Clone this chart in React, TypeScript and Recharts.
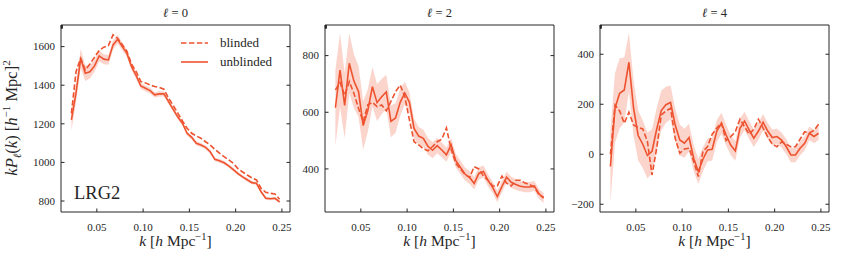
import React from 'react';
import { ComposedChart, Line, Area, XAxis, YAxis, Legend } from 'recharts';

// k bin centres [h/Mpc]
const kBins = [
  0.0225, 0.0275, 0.0325, 0.0375, 0.0425, 0.0475, 0.0525, 0.0575, 0.0625, 0.0675,
  0.0725, 0.0775, 0.0825, 0.0875, 0.0925, 0.0975, 0.1025, 0.1075, 0.1125, 0.1175,
  0.1225, 0.1275, 0.1325, 0.1375, 0.1425, 0.1475, 0.1525, 0.1575, 0.1625, 0.1675,
  0.1725, 0.1775, 0.1825, 0.1875, 0.1925, 0.1975, 0.2025, 0.2075, 0.2125, 0.2175,
  0.2225, 0.2275, 0.2325, 0.2375, 0.2425, 0.2475,
];

// l = 0
const monoBlinded = [
  1254, 1470, 1540, 1480, 1510, 1545, 1580, 1597, 1605, 1661,
  1643, 1610, 1575, 1510, 1470, 1419, 1412, 1401, 1393, 1388,
  1379, 1333, 1295, 1255, 1215, 1177, 1151, 1137, 1125, 1107,
  1090, 1068, 1048, 1030, 1013, 995, 968, 950, 935, 920,
  909, 866, 845, 840, 836, 809,
];
const monoUnblinded = [
  1220, 1360, 1538, 1462, 1470, 1500, 1552, 1535, 1531, 1609,
  1638, 1600, 1565, 1496, 1450, 1396, 1384, 1372, 1350, 1355,
  1355, 1315, 1275, 1235, 1203, 1151, 1130, 1099, 1090, 1078,
  1055, 1016, 1008, 998, 982, 962, 942, 925, 910, 895,
  892, 848, 814, 812, 814, 795,
];
const monoSigma = [
  55, 50, 50, 40, 35, 30, 28, 26, 25, 24,
  22, 20, 19, 18, 17, 16, 15, 15, 14, 14,
  13, 13, 12, 12, 12, 11, 11, 11, 10, 10,
  10, 10, 10, 9, 9, 9, 9, 9, 9, 8,
  8, 8, 8, 8, 8, 8,
];

// l = 2
const quadBlinded = [
  679, 705, 660, 708, 667, 614, 567, 626, 635, 620,
  626, 605, 638, 673, 696, 655, 573, 496, 485, 471,
  464, 479, 496, 505, 545, 470, 420, 400, 380, 370,
  408, 400, 375, 360, 340, 340, 375, 350, 340, 360,
  360, 350, 345, 335, 310, 300,
];
const quadUnblinded = [
  616, 749, 624, 773, 710, 673, 553, 606, 690, 634,
  655, 672, 568, 580, 635, 668, 635, 543, 516, 508,
  480, 466, 482, 467, 450, 485, 430, 406, 382, 370,
  349, 384, 391, 359, 335, 302, 338, 371, 353, 345,
  339, 336, 336, 340, 312, 297,
];
const quadSigma = [
  135, 130, 115, 105, 95, 90, 85, 75, 70, 65,
  62, 60, 56, 52, 48, 40, 36, 34, 32, 30,
  29, 28, 27, 26, 25, 25, 24, 24, 23, 23,
  22, 22, 21, 21, 20, 20, 20, 19, 19, 19,
  18, 18, 18, 17, 17, 17,
];

// l = 4
const hexaBlinded = [
  0, 197, 173, 124, 168, 117, 107, 101, 51, -83,
  24, 157, 173, 184, 64, 4, 21, 24, -29, -89,
  11, 31, 80, 105, 125, 55, 70, 90, 140, 110,
  80, 100, 140, 105, 70, 40, 30, 50, 40, 30,
  30, 60, 90, 85, 95, 120,
];
const hexaUnblinded = [
  -49, 185, 244, 257, 368, 185, 75, 40, -5, 12,
  100, 175, 198, 207, 117, 57, 44, 67, -16, -69,
  -20, 17, 20, 93, 124, 77, 37, 13, 104, 133,
  97, 64, 93, 128, 93, 67, 71, 57, 31, -3,
  -3, 24, 44, 84, 71, 84,
];
const hexaSigma = [
  145, 140, 140, 130, 118, 110, 100, 95, 92, 88,
  85, 80, 72, 68, 65, 62, 58, 55, 52, 50,
  48, 46, 45, 44, 42, 41, 40, 39, 38, 37,
  36, 35, 34, 33, 32, 32, 31, 30, 30, 29,
  29, 28, 28, 27, 27, 27,
];

const kTicks = [0.05, 0.1, 0.15, 0.2, 0.25];
const monoTicks = [800, 1000, 1200, 1400, 1600];
const quadTicks = [400, 600, 800];
const hexaTicks = [-200, 0, 200, 400];

const COLOR = '#ee5330';
const INK = '#262626';
const FONT = '"Liberation Serif", "DejaVu Serif", serif';
const TICK_LEN = 3.5;

const buildRows = (blinded: number[], unblinded: number[], sigma: number[]) =>
  kBins.map((k, i) => ({
    k,
    blinded: blinded[i],
    unblinded: unblinded[i],
    band: [unblinded[i] - sigma[i], unblinded[i] + sigma[i]],
  }));

const fmtY = (v: number) => (v < 0 ? '\u2212' + Math.abs(v) : String(v));

const BottomTick = ({ x, y, payload }: any) => (
  <g>
    <line x1={x} x2={x} y1={y} y2={y - TICK_LEN} stroke={INK} />
    <text x={x} y={y + 19} textAnchor="middle" fontSize={11} fontFamily={FONT} fill={INK}>
      {Number(payload.value).toFixed(2)}
    </text>
  </g>
);
const TopTick = ({ x, y }: any) => <line x1={x} x2={x} y1={y} y2={y + TICK_LEN} stroke={INK} />;
const LeftTick = ({ x, y, payload }: any) => (
  <g>
    <line x1={x} x2={x + TICK_LEN} y1={y} y2={y} stroke={INK} />
    <text x={x - 6} y={y + 3.7} textAnchor="end" fontSize={11} fontFamily={FONT} fill={INK}>
      {fmtY(payload.value)}
    </text>
  </g>
);
const RightTick = ({ x, y }: any) => <line x1={x} x2={x - TICK_LEN} y1={y} y2={y} stroke={INK} />;

const renderLegend = ({ payload }: any) => (
  <div style={{ fontFamily: FONT, fontSize: 13, color: INK }}>
    {(payload || [])
      .filter((entry: any) => entry.dataKey !== 'band' && entry.type !== 'none')
      .map((entry: any) => (
        <div key={entry.value} style={{ display: 'flex', alignItems: 'center', height: 19.6 }}>
          <svg width={39} height={10}>
            <line
              x1={0}
              x2={27}
              y1={5}
              y2={5}
              stroke={entry.color}
              strokeWidth={1.6}
              strokeDasharray={entry.payload?.strokeDasharray}
            />
          </svg>
          <span>{entry.value}</span>
        </div>
      ))}
  </div>
);

interface PanelProps {
  plotLeft: number;
  ell: number;
  rows: any[];
  yDomain: [number, number];
  yTicks: number[];
  first?: boolean;
}

const Panel: React.FC<PanelProps> = ({ plotLeft, ell, rows, yDomain, yTicks, first }) => {
  const cx = plotLeft + 114.5;
  return (
    <>
      <div style={{ position: 'absolute', left: plotLeft - 61, top: 0, width: 300, height: 260 }}>
        <ComposedChart width={300} height={260} data={rows} margin={{ top: 24, right: 9, bottom: 8, left: 0 }}>
          <XAxis
            dataKey="k"
            type="number"
            domain={[0.01125, 0.25875]}
            allowDataOverflow
            ticks={kTicks}
            interval={0}
            height={40}
            tickSize={0}
            tickMargin={0}
            tickLine={false}
            tick={BottomTick}
            axisLine={{ stroke: INK }}
          />
          <XAxis
            xAxisId="top"
            orientation="top"
            type="number"
            domain={[0.01125, 0.25875]}
            allowDataOverflow
            ticks={kTicks}
            interval={0}
            height={1}
            tickSize={0}
            tickMargin={0}
            tickLine={false}
            tick={TopTick}
            axisLine={{ stroke: INK }}
          />
          <YAxis
            type="number"
            domain={yDomain}
            allowDataOverflow
            ticks={yTicks}
            interval={0}
            width={61}
            tickSize={0}
            tickMargin={0}
            tickLine={false}
            tick={LeftTick}
            axisLine={{ stroke: INK }}
          />
          <YAxis
            yAxisId="right"
            orientation="right"
            type="number"
            domain={yDomain}
            allowDataOverflow
            ticks={yTicks}
            interval={0}
            width={1}
            tickSize={0}
            tickMargin={0}
            tickLine={false}
            tick={RightTick}
            axisLine={{ stroke: INK }}
          />
          <Area
            dataKey="band"
            type="linear"
            stroke="none"
            fill={COLOR}
            fillOpacity={0.25}
            legendType="none"
            isAnimationActive={false}
          />
          <Line
            dataKey="blinded"
            name="blinded"
            type="linear"
            stroke={COLOR}
            strokeWidth={1.6}
            strokeDasharray="5.5 2.4"
            dot={false}
            activeDot={false}
            isAnimationActive={false}
          />
          <Line
            dataKey="unblinded"
            name="unblinded"
            type="linear"
            stroke={COLOR}
            strokeWidth={1.6}
            dot={false}
            activeDot={false}
            isAnimationActive={false}
          />
          {first && (
            <Legend
              layout="horizontal"
              verticalAlign="middle"
              align="center"
              wrapperStyle={{ left: 181, top: 33, width: 110 }}
              content={renderLegend}
            />
          )}
        </ComposedChart>
      </div>
      <div
        style={{
          position: 'absolute', left: cx, top: 7, transform: 'translateX(-50%)',
          fontFamily: FONT, fontSize: 12.5, lineHeight: 1, color: INK, whiteSpace: 'nowrap',
        }}
      >
        <i>ℓ</i> = {ell}
      </div>
      <div
        style={{
          position: 'absolute', left: cx, top: 232, transform: 'translateX(-50%)',
          fontFamily: FONT, fontSize: 15.5, lineHeight: 1, color: INK, whiteSpace: 'nowrap',
        }}
      >
        <i>k</i> [<i>h</i> Mpc<sup style={{ fontSize: 10.5 }}>−1</sup>]
      </div>
      {first && (
        <>
          <div
            style={{
              position: 'absolute', left: 74, top: 184, fontFamily: FONT, fontSize: 18.5,
              lineHeight: 1, color: INK,
            }}
          >
            LRG2
          </div>
          <div
            style={{
              position: 'absolute', left: 12, top: 118, transform: 'translate(-50%, -50%) rotate(-90deg)',
              fontFamily: FONT, fontSize: 16.5, lineHeight: 1, color: INK, whiteSpace: 'nowrap',
            }}
          >
            <i>kP</i><sub style={{ fontSize: 11 }}><i>ℓ</i></sub>(<i>k</i>)&nbsp;[<i>h</i>
            <sup style={{ fontSize: 11 }}>−1</sup>&nbsp;Mpc]<sup style={{ fontSize: 11 }}>2</sup>
          </div>
        </>
      )}
    </>
  );
};

const App: React.FC = () => (
  <div style={{ position: 'absolute', left: 0, top: 0, width: 842, height: 260, background: '#fff' }}>
    <Panel plotLeft={61} ell={0} rows={buildRows(monoBlinded, monoUnblinded, monoSigma)} yDomain={[743, 1712]} yTicks={monoTicks} first />
    <Panel plotLeft={325} ell={2} rows={buildRows(quadBlinded, quadUnblinded, quadSigma)} yDomain={[248, 908]} yTicks={quadTicks} />
    <Panel plotLeft={600} ell={4} rows={buildRows(hexaBlinded, hexaUnblinded, hexaSigma)} yDomain={[-231, 517]} yTicks={hexaTicks} />
  </div>
);

export default App;
